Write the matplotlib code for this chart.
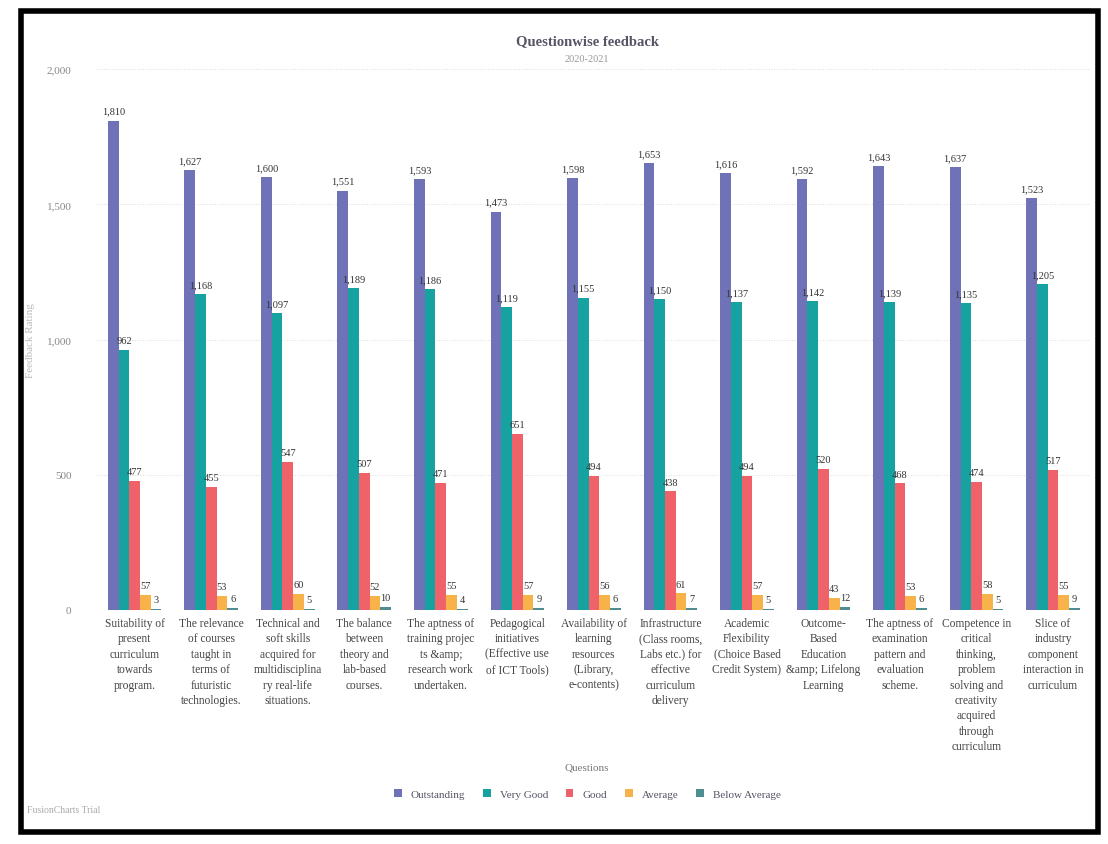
import numpy as np
import matplotlib.pyplot as plt
from matplotlib.patches import Rectangle

# Datos
questions = [
    "Suitability of\npresent\ncurriculum\ntowards\nprogram.",
    "The relevance\nof courses\ntaught in\nterms of\nfuturistic\ntechnologies.",
    "Technical and\nsoft skills\nacquired for\nmultidisciplina\nry real-life\nsituations.",
    "The balance\nbetween\ntheory and\nlab-based\ncourses.",
    "The aptness of\ntraining projec\nts &amp;\nresearch work\nundertaken.",
    "Pedagogical\ninitiatives\n(Effective use\nof ICT Tools)",
    "Availability of\nlearning\nresources\n(Library,\ne-contents)",
    "Infrastructure\n(Class rooms,\nLabs etc.) for\neffective\ncurriculum\ndelivery",
    "Academic\nFlexibility\n(Choice Based\nCredit System)",
    "Outcome-\nBased\nEducation\n&amp; Lifelong\nLearning",
    "The aptness of\nexamination\npattern and\nevaluation\nscheme.",
    "Competence in\ncritical\nthinking,\nproblem\nsolving and\ncreativity\nacquired\nthrough\ncurriculum",
    "Slice of\nindustry\ncomponent\ninteraction in\ncurriculum",
]
series_names = ["Outstanding", "Very Good", "Good", "Average", "Below Average"]
outstanding = [1810, 1627, 1600, 1551, 1593, 1473, 1598, 1653, 1616, 1592, 1643, 1637, 1523]
very_good = [962, 1168, 1097, 1189, 1186, 1119, 1155, 1150, 1137, 1142, 1139, 1135, 1205]
good = [477, 455, 547, 507, 471, 651, 494, 438, 494, 520, 468, 474, 517]
average = [57, 53, 60, 52, 55, 57, 56, 61, 57, 43, 53, 58, 55]
below_average = [3, 6, 5, 10, 4, 9, 6, 7, 5, 12, 6, 5, 9]
series = [outstanding, very_good, good, average, below_average]
colors = ["#6f72b6", "#17a2a2", "#f0626a", "#f8b24a", "#4f8d92"]

plt.rcParams["font.family"] = ["Liberation Serif", "DejaVu Serif"]

fig = plt.figure(figsize=(11.08, 8.45), dpi=100)
ax = fig.add_axes([0.087, 0.277, 0.898, 0.64])

x = np.arange(len(questions))
w = 0.14
for i, (name, vals, c) in enumerate(zip(series_names, series, colors)):
    pos = x + (i - 2) * w
    ax.bar(pos, vals, width=w, color=c, label=name, zorder=3)
    for px, v in zip(pos, vals):
        ax.text(px, v + 18, f"{v:,}", ha="center", va="bottom", fontsize=7.5, color="#333333")

ax.set_xlim(-0.5, len(questions) - 0.5)
ax.set_ylim(0, 2000)
ax.set_yticks([0, 500, 1000, 1500, 2000])
ax.set_yticklabels(["0", "500", "1,000", "1,500", "2,000"], fontsize=8, color="#888888")
ax.grid(axis="y", color="#dddddd", linestyle=":", linewidth=0.7, zorder=0)
for s in ax.spines.values():
    s.set_visible(False)
ax.tick_params(length=0)
ax.tick_params(axis="y", pad=18)
ax.tick_params(axis="x", pad=5)
ax.set_xticks(x)
ax.set_xticklabels(questions, fontsize=8.3, color="#444444", linespacing=1.38, va="top")
ax.set_ylabel("Feedback Rating", fontsize=8, color="#bbbbbb", labelpad=8)

fig.text(0.53, 0.947, "Questionwise feedback", ha="center", fontsize=10.5, fontweight="bold", color="#555566")
fig.text(0.53, 0.927, "2020-2021", ha="center", fontsize=7.5, color="#999999")
fig.text(0.53, 0.088, "Questions", ha="center", fontsize=8, color="#777777")

fig.legend(loc="center", bbox_to_anchor=(0.53, 0.059), ncol=5, frameon=False,
           fontsize=8, handlelength=0.7, handleheight=0.7, columnspacing=1.6,
           labelcolor="#555566")

fig.text(0.024, 0.038, "FusionCharts Trial", fontsize=7, color="#aaaaaa")

# Marco negro de la hoja escaneada
fig.patches.append(Rectangle((0.019, 0.014), 0.972, 0.972, transform=fig.transFigure,
                             fill=False, edgecolor="black", linewidth=4))

plt.savefig("out.png", dpi=100)
